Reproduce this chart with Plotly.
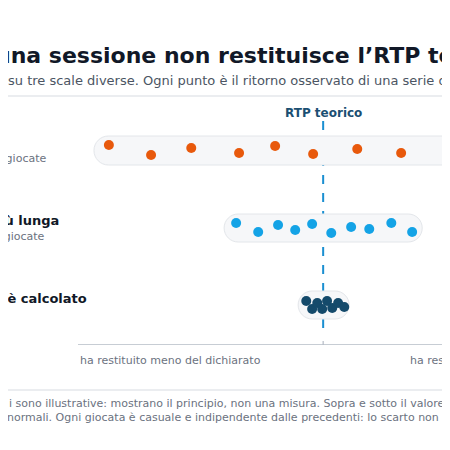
import plotly.graph_objects as go

# data (x = deviation from theoretical RTP, arbitrary units; y = jitter row position)
short_x = [-0.874, -0.702, -0.538, -0.343, -0.196, -0.041, 0.139, 0.318, 0.514]
short_y = [137, 147, 140, 145, 138, 146, 141, 145, 137]
long_x = [-0.355, -0.265, -0.184, -0.114, -0.045, 0.033, 0.114, 0.188, 0.278, 0.363]
long_y = [215, 224, 217, 222, 216, 225, 219, 221, 215, 224]
vlong_x = [-0.069, -0.045, -0.024, -0.004, 0.016, 0.037, 0.061, 0.086]
vlong_y = [293, 301, 295, 301, 293, 300, 295, 299]
caps = [(-0.935, 0.95, 142.5, 14.5), (-0.404, 0.404, 220, 14), (-0.102, 0.106, 297, 14)]

U = 245.0  # px per x unit
fig = go.Figure()
shapes = [dict(type="line", x0=0, x1=0, y0=113, y1=322, xref="x", yref="y",
               line=dict(color="#1a8fd1", width=2, dash="dash"), layer="below")]
for x0, x1, yc, r in caps:
    rx = r / U; k = 0.5523
    p = (f"M{x0+rx},{yc-r} L{x1-rx},{yc-r} "
         f"C{x1-rx+k*rx},{yc-r} {x1},{yc-k*r} {x1},{yc} "
         f"C{x1},{yc+k*r} {x1-rx+k*rx},{yc+r} {x1-rx},{yc+r} "
         f"L{x0+rx},{yc+r} "
         f"C{x0+rx-k*rx},{yc+r} {x0},{yc+k*r} {x0},{yc} "
         f"C{x0},{yc-k*r} {x0+rx-k*rx},{yc-r} {x0+rx},{yc-r} Z")
    shapes.append(dict(type="path", path=p, xref="x", yref="y", fillcolor="#f6f7f9",
                       line=dict(color="#e3e6ea", width=1), layer="below"))
shapes += [
    dict(type="line", xref="paper", yref="y", x0=0, x1=1.1, y0=337, y1=337, line=dict(color="#b5bcc6", width=1.5)),
    dict(type="line", xref="x", yref="y", x0=0, x1=0, y0=333, y1=341, line=dict(color="#b5bcc6", width=1.2)),
    dict(type="line", xref="paper", yref="paper", x0=-0.3, x1=1.1, y0=1 + 7/242, y1=1 + 7/242, line=dict(color="#e5e7eb", width=1.5)),
    dict(type="line", xref="paper", yref="paper", x0=-0.3, x1=1.1, y0=-45/242, y1=-45/242, line=dict(color="#e5e7eb", width=1.5)),
]

for xs, ys, c in [(short_x, short_y, "#e8590c"), (long_x, long_y, "#14a3e6"), (vlong_x, vlong_y, "#144a6b")]:
    fig.add_trace(go.Scatter(x=xs, y=ys, mode="markers", marker=dict(size=10, color=c), hoverinfo="skip"))

def px_x(p):
    return (p - 70) / 380.0

def px_y(p):
    return (337 - p) / 242.0

F = "DejaVu Sans"
ann = []
def A(text, x, y, size, color, xanchor="left", bold=False):
    ann.append(dict(text=f"<b>{text}</b>" if bold else text, x=px_x(x), y=px_y(y), xref="paper", yref="paper",
                    xanchor=xanchor, yanchor="middle", showarrow=False, font=dict(family=F, size=size, color=color)))

A("una sessione non restituisce l’RTP teorico", -15, 47, 22, "#111827", bold=True)
A("su tre scale diverse. Ogni punto è il ritorno osservato di una serie di giocate", -2, 72, 13, "#4b5563")
A("RTP teorico", 315, 105, 12, "#1b4f72", xanchor="center", bold=True)
A("Sessione breve", -8, 134, 13, "#111827", xanchor="right", bold=True)
A("poche decine di giocate", 40, 150, 11, "#6b7280", xanchor="right")
A("Sessione più lunga", 53, 212, 13, "#111827", xanchor="right", bold=True)
A("centinaia di giocate", 39, 228, 11, "#6b7280", xanchor="right")
A("Il lungo periodo su cui l’RTP è calcolato", 81, 290, 13, "#111827", xanchor="right", bold=True)
A("ha restituito meno del dichiarato", 70, 352, 11, "#6b7280")
A("ha restituito più del dichiarato", 400, 352, 11, "#6b7280")
A("i sono illustrative: mostrano il principio, non una misura. Sopra e sotto il valore dichiarato", -1, 395, 11, "#6b7280")
A("normali. Ogni giocata è casuale e indipendente dalle precedenti: lo scarto non si può prevedere.", -3, 409, 11, "#6b7280")

fig.update_layout(width=450, height=450, margin=dict(l=70, r=0, t=95, b=113),
                  paper_bgcolor="white", plot_bgcolor="white", showlegend=False,
                  shapes=shapes, annotations=ann,
                  xaxis=dict(range=[-1, 0.55], visible=False, fixedrange=True),
                  yaxis=dict(range=[337, 95], visible=False, fixedrange=True))
fig.write_html("out.html")
